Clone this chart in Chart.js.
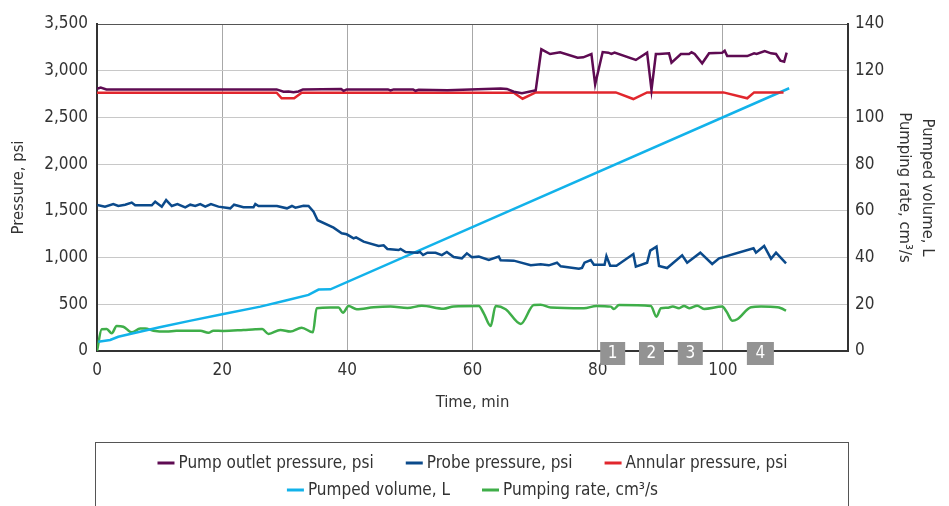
<!DOCTYPE html>
<html>
<head>
<meta charset="utf-8">
<script src="https://cdn.jsdelivr.net/npm/chart.js@4.4.1/dist/chart.umd.min.js"></script>
<style>
  html, body { margin: 0; padding: 0; background: #fff; }
</style>
</head>
<body>
<canvas id="pumpChart" width="949" height="506"></canvas>
<script>
// time axis ticks and right-hand axis ticks
const timeTicks = [0, 20, 40, 60, 80, 100];
const pressureMax = 3500;
const rightMax = 140;

// Pump outlet pressure, psi
const outletTime = [0, 0.6, 1.5, 10, 20, 28.7, 29.8, 30.6, 31.4, 32.2, 32.9, 39.0, 39.4, 39.9, 46.5, 46.9, 47.4, 50.5, 50.9, 51.4, 56, 64.5, 65.5, 66.6, 67.9, 69.8, 70.1, 71.0, 72.4, 74.0, 76.8, 77.7, 79.0, 79.6, 80.8, 81.7, 82.2, 82.7, 86.1, 87.9, 88.6, 89.3, 89.8, 91.4, 91.8, 93.3, 94.6, 95.0, 95.5, 96.7, 97.8, 99.9, 100.3, 100.7, 103.9, 105.0, 105.4, 106.7, 107.7, 108.5, 109.2, 109.8, 110.2];
const outletPsi = [2805, 2820, 2800, 2800, 2800, 2800, 2775, 2778, 2770, 2778, 2800, 2805, 2785, 2800, 2800, 2790, 2800, 2800, 2785, 2795, 2790, 2810, 2805, 2775, 2758, 2786, 2790, 3229, 3179, 3197, 3139, 3143, 3179, 2854, 3200, 3193, 3179, 3193, 3115, 3193, 2793, 3179, 3179, 3186, 3086, 3179, 3179, 3197, 3179, 3079, 3186, 3193, 3214, 3157, 3157, 3186, 3179, 3211, 3186, 3179, 3107, 3097, 3193];

// Probe pressure, psi
const probeTime = [0.05, 1.28, 2.6, 3.4, 4.5, 5.55, 6.1, 8.75, 9.3, 10.35, 11.05, 11.95, 12.85, 14.1, 14.9, 15.7, 16.5, 17.3, 18.2, 19.4, 21.3, 21.9, 23.4, 25.0, 25.3, 25.8, 28.75, 30.35, 31.15, 31.7, 33.0, 33.8, 34.6, 35.25, 37.8, 39.1, 39.9, 41.0, 41.4, 42.6, 45.0, 45.8, 46.4, 48.2, 48.5, 49.3, 51.2, 51.6, 52.1, 52.8, 54.1, 55.1, 55.9, 57.0, 58.3, 59.1, 59.9, 61.0, 62.6, 64.2, 64.5, 66.6, 69.3, 70.9, 72.2, 73.5, 74.1, 77.0, 77.5, 77.9, 78.9, 79.4, 81.1, 81.4, 82.0, 83.0, 85.7, 86.1, 87.9, 88.4, 89.4, 89.8, 91.1, 93.5, 94.3, 96.4, 98.3, 99.4, 104.9, 105.3, 106.6, 107.7, 108.5, 110.1];
const probePsi = [1563, 1545, 1573, 1552, 1566, 1588, 1559, 1559, 1598, 1545, 1616, 1552, 1573, 1538, 1566, 1552, 1573, 1545, 1573, 1545, 1527, 1566, 1538, 1538, 1573, 1552, 1552, 1527, 1552, 1534, 1555, 1552, 1491, 1400, 1320, 1260, 1249, 1206, 1217, 1170, 1124, 1131, 1092, 1081, 1092, 1060, 1052, 1060, 1027, 1052, 1052, 1027, 1060, 1006, 992, 1045, 1003, 1010, 974, 1010, 970, 967, 917, 928, 917, 945, 906, 881, 890, 945, 974, 924, 924, 1017, 913, 913, 1038, 903, 945, 1074, 1117, 910, 888, 1024, 945, 1052, 931, 992, 1099, 1052, 1124, 988, 1052, 938];

// Annular pressure, psi
const annularTime = [0, 28.7, 29.5, 31.5, 32.7, 66.6, 68.0, 70.1, 82.9, 85.7, 87.9, 100.1, 103.9, 105.0, 109.7];
const annularPsi = [2765, 2765, 2705, 2705, 2765, 2765, 2700, 2768, 2768, 2697, 2768, 2768, 2705, 2768, 2768];

// Pumped volume, L
const volumeTime = [0.2, 2.1, 3.4, 5.8, 10, 15, 20, 26.1, 30, 33.8, 35.4, 37.3, 110.6];
const volumeL = [4.0, 4.7, 6.1, 7.6, 10.2, 13.0, 15.7, 19.0, 21.5, 24.0, 26.3, 26.4, 112.5];

// Pumping rate, cm3/s
const rateTime = [0, 0.75, 1.55, 2.35, 3.15, 4.2, 5.55, 6.9, 7.7, 9.0, 11.1, 12.7, 14.9, 16.5, 17.8, 18.6, 20.2, 23.4, 25.3, 26.4, 27.4, 29.3, 30.9, 32.7, 34.5, 35.1, 37.3, 38.6, 39.3, 40.2, 41.5, 44.2, 46.9, 49.6, 51.9, 55.4, 57.0, 61.0, 61.8, 62.9, 63.7, 65.3, 67.7, 69.8, 70.9, 72.5, 77.8, 79.8, 82.1, 82.6, 83.4, 88.5, 89.4, 90.1, 91.1, 92.0, 93.0, 93.8, 94.7, 95.9, 97.0, 99.9, 100.6, 101.5, 102.3, 104.5, 106.1, 108.7, 109.3, 110.1];
const rateCm3 = [0, 9.3, 9.4, 7.6, 10.7, 10.4, 8.0, 9.6, 9.6, 8.7, 8.3, 8.7, 8.7, 8.7, 7.8, 8.7, 8.6, 9.0, 9.3, 9.4, 7.3, 9.0, 8.3, 10.0, 8.0, 18.3, 18.6, 18.6, 16.4, 19.3, 17.9, 18.7, 19.0, 18.4, 19.4, 18.1, 19.1, 19.3, 16.1, 10.7, 19.3, 17.9, 11.6, 19.7, 19.8, 18.6, 18.3, 19.3, 19.0, 18.0, 19.7, 19.3, 14.7, 18.3, 18.5, 19.0, 18.3, 19.3, 18.3, 19.4, 18.0, 19.0, 16.8, 13.0, 13.6, 18.7, 19.0, 18.7, 18.3, 17.3];

// numbered event markers on the time axis
const eventTime = [82.4, 88.6, 94.8, 106.0];
const eventLabel = ['1', '2', '3', '4'];

const legendRows = [[0, 1, 2], [3, 4]];

const FONT = "'DejaVu Sans Condensed', 'DejaVu Sans', sans-serif";
const TEXT = '#333333';
Chart.defaults.font.family = FONT;
Chart.defaults.color = TEXT;

const pts = (xs, ys) => xs.map((x, i) => ({ x: x, y: ys[i] }));

const line = (label, xs, ys, color, axis) => ({
    label: label,
    data: pts(xs, ys),
    borderColor: color,
    backgroundColor: color,
    borderWidth: 2.5,
    pointRadius: 0,
    tension: 0,
    yAxisID: axis
});

const rateSet = line('Pumping rate, cm³/s', rateTime, rateCm3, '#3fae49', 'y1');
rateSet.cubicInterpolationMode = 'monotone';

// grey numbered boxes sitting on the x axis
const eventBoxes = {
    id: 'eventBoxes',
    afterDatasetsDraw(chart) {
        const { ctx, chartArea } = chart;
        const xs = chart.scales.x;
        ctx.save();
        ctx.font = '17px ' + FONT;
        ctx.textAlign = 'center';
        ctx.textBaseline = 'middle';
        eventTime.forEach((t, i) => {
            const px = xs.getPixelForValue(t);
            const w = i === 3 ? 27 : 25;
            ctx.fillStyle = '#939393';
            ctx.fillRect(px - w / 2, chartArea.bottom - 9, w, 23);
            ctx.fillStyle = '#ffffff';
            ctx.fillText(eventLabel[i], px, chartArea.bottom + 3);
        });
        ctx.restore();
    }
};

// legend inside a box under the chart, two rows
const boxLegend = {
    id: 'boxLegend',
    afterDraw(chart) {
        const { ctx, chartArea } = chart;
        const sets = chart.data.datasets;
        ctx.save();
        ctx.strokeStyle = '#555555';
        ctx.lineWidth = 1;
        ctx.strokeRect(chartArea.left - 1.5, 442.5, chartArea.right - chartArea.left + 2, 80);
        ctx.font = '17px ' + FONT;
        ctx.textBaseline = 'middle';
        const mark = 17, gap = 4, space = 32;
        const mid = (chartArea.left + chartArea.right) / 2;
        legendRows.forEach((row, r) => {
            const y = 463 + r * 27;
            const widths = row.map(i => mark + gap + ctx.measureText(sets[i].label).width);
            const total = widths.reduce((a, b) => a + b, 0) + space * (row.length - 1);
            let x = mid - total / 2;
            row.forEach((i, k) => {
                ctx.strokeStyle = sets[i].borderColor;
                ctx.lineWidth = 3;
                ctx.beginPath();
                ctx.moveTo(x, y);
                ctx.lineTo(x + mark, y);
                ctx.stroke();
                ctx.fillStyle = TEXT;
                ctx.fillText(sets[i].label, x + mark + gap, y + 1);
                x += widths[k] + space;
            });
        });
        ctx.restore();
    }
};

const ctx = document.getElementById('pumpChart').getContext('2d');

const pumpChart = new Chart(ctx, {
    type: 'line',
    data: {
        datasets: [
            line('Pump outlet pressure, psi', outletTime, outletPsi, '#5e0b52', 'y'),
            line('Probe pressure, psi', probeTime, probePsi, '#0b4a8b', 'y'),
            line('Annular pressure, psi', annularTime, annularPsi, '#e1262d', 'y'),
            line('Pumped volume, L', volumeTime, volumeL, '#12b2ea', 'y1'),
            rateSet
        ]
    },
    options: {
        responsive: false,
        animation: false,
        layout: { padding: { top: 24, bottom: 93, left: 0, right: 0 } },
        plugins: {
            legend: { display: false },
            tooltip: { enabled: false }
        },
        scales: {
            x: {
                type: 'linear',
                min: 0,
                max: 120,
                afterBuildTicks: (s) => { s.ticks = timeTicks.concat([120]).map(v => ({ value: v })); },
                ticks: {
                    font: { size: 17 },
                    padding: 9,
                    maxRotation: 0,
                    callback: (v) => (timeTicks.includes(v) ? String(v) : '')
                },
                grid: { color: '#a8a8a8', lineWidth: 1, drawTicks: false },
                border: { color: '#333333', width: 2 },
                title: { display: true, text: 'Time, min', font: { size: 16.5 }, padding: { top: 0, bottom: 0 } },
                afterFit: (s) => { s.height = 62; }
            },
            y: {
                position: 'left',
                min: 0,
                max: pressureMax,
                ticks: {
                    stepSize: 500,
                    font: { size: 17 },
                    padding: 9,
                    callback: (v) => v.toLocaleString('en-US')
                },
                grid: {
                    color: (c) => (c.tick && c.tick.value === pressureMax ? '#555555' : '#c8c8c8'),
                    lineWidth: 1,
                    drawTicks: false
                },
                border: { color: '#333333', width: 2 },
                title: { display: true, text: 'Pressure, psi', font: { size: 16.5 }, padding: { top: 9, bottom: 0 } },
                afterFit: (s) => { s.width = 97; }
            },
            y1: {
                position: 'right',
                min: 0,
                max: rightMax,
                ticks: { stepSize: 20, font: { size: 17 }, padding: 7 },
                grid: { drawOnChartArea: false, drawTicks: false },
                border: { color: '#333333', width: 2 },
                title: {
                    display: true,
                    text: ['Pumped volume, L', 'Pumping rate, cm³/s'],
                    font: { size: 16.5, lineHeight: 1.35 },
                    padding: { top: 11, bottom: 0 }
                },
                afterFit: (s) => { s.width = 101; }
            }
        }
    },
    plugins: [eventBoxes, boxLegend]
});
</script>
</body>
</html>
